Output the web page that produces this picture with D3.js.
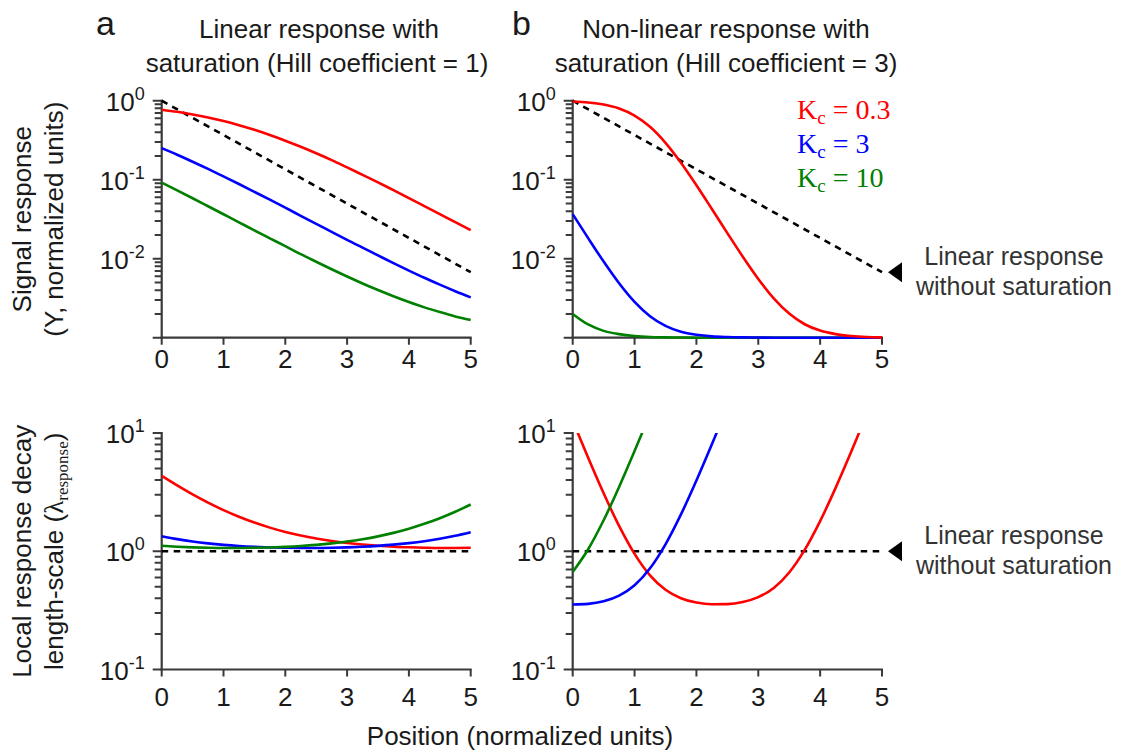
<!DOCTYPE html>
<html><head><meta charset="utf-8">
<script src="https://cdn.jsdelivr.net/npm/d3@7"></script>
<style>
body{margin:0;background:#fff}
svg{display:block}
text{font-family:"Liberation Sans",Arial,sans-serif}
</style>
</head><body>
<svg id="chart" width="1121" height="755"></svg>
<script>
// ---------- data ----------
const position = [0,0.25,0.5,0.75,1,1.25,1.5,1.75,2,2.25,2.5,2.75,3,3.25,3.5,3.75,4,4.25,4.5,4.75,5];
const xTickValues = [0,1,2,3,4,5];
const yTopLabelled = [1,0.1,0.01];
const yBotLabelled = [10,1,0.1];
const kcLabels = ["0.3","3","10"];
const seriesColors = ["#ff0000","#0000ff","#008000"];

// panel a, signal response (Hill = 1)
const respA_kc03 = [0.770,0.723,0.670,0.613,0.552,0.489,0.428,0.368,0.312,0.261,0.216,0.177,0.143,0.115,0.0925,0.0737,0.0586,0.0464,0.0367,0.0290,0.0230];
const respA_kc3  = [0.251,0.207,0.169,0.137,0.110,0.0882,0.0702,0.0558,0.0442,0.0349,0.0276,0.0219,0.0173,0.0138,0.0110,0.00878,0.00707,0.00573,0.00469,0.00388,0.00324];
const respA_kc10 = [0.0919,0.0733,0.0582,0.0461,0.0365,0.0289,0.0228,0.0181,0.0144,0.0114,0.00914,0.00735,0.00595,0.00486,0.00401,0.00335,0.00283,0.00242,0.00211,0.00186,0.00167];
// panel b, signal response (Hill = 3)
const respB_kc03 = [0.975,0.947,0.893,0.797,0.649,0.467,0.293,0.164,0.0851,0.0426,0.0211,0.0106,0.00555,0.00315,0.00202,0.00148,0.00123,0.00111,0.00105,0.00102,0.00101];
const respB_kc3  = [0.0367,0.0182,0.00920,0.00489,0.00284,0.00187,0.00141,0.00119,0.00109,0.00104,0.00102,0.00101,0.001005,0.001,0.001,0.001,0.001,0.001,0.001,0.001,0.001];
const respB_kc10 = [0.00200,0.00147,0.00122,0.00111,0.00105,0.00102,0.00101,0.001005,0.001,0.001,0.001,0.001,0.001,0.001,0.001,0.001,0.001,0.001,0.001,0.001,0.001];
// linear response without saturation
const linearPos  = [0,5];
const linearResp = [1,0.00674];
const linearLambda = [1,1];
// panel a, local decay length-scale
const lamA_kc03 = [4.339,3.601,3.026,2.579,2.230,1.959,1.748,1.584,1.456,1.357,1.280,1.220,1.174,1.139,1.113,1.093,1.080,1.071,1.066,1.066,1.069];
const lamA_kc3  = [1.339,1.266,1.209,1.166,1.133,1.108,1.090,1.077,1.069,1.066,1.066,1.070,1.079,1.092,1.111,1.137,1.172,1.217,1.276,1.352,1.449];
const lamA_kc10 = [1.112,1.093,1.079,1.070,1.066,1.066,1.069,1.077,1.089,1.107,1.132,1.165,1.208,1.264,1.336,1.430,1.550,1.705,1.903,2.159,2.487];
// panel b, local decay length-scale (null = off the chart)
const lamB_kc03 = [12.69,6.172,3.091,1.637,0.950,0.625,0.472,0.401,0.368,0.356,0.357,0.372,0.409,0.489,0.661,1.026,1.799,3.435,6.898,14.23,null];
const lamB_kc3  = [0.355,0.359,0.377,0.421,0.515,0.717,1.144,2.049,3.964,8.02,16.6,null,null,null,null,null,null,null,null,null,null];
const lamB_kc10 = [0.668,1.040,1.828,3.497,7.029,14.5,null,null,null,null,null,null,null,null,null,null,null,null,null,null,null];

// ---------- layout ----------
const svg = d3.select("#chart");
const AXIS = "#3a3a3a";
const TXT = "#1a1a1a";
const panelsX = [[161.7,470.7],[572.7,882]];
const topRange = [337.7,100.7];
const botRange = [669.5,433];

const xs = panelsX.map(r => d3.scaleLinear().domain([0,5]).range(r));
const yTop = d3.scaleLog().domain([1e-3,1]).range(topRange);
const yBot = d3.scaleLog().domain([0.1,10]).range(botRange);

const defs = svg.append("defs");
defs.append("clipPath").attr("id","clipBR").append("rect")
  .attr("x",panelsX[1][0]-5).attr("y",botRange[1]).attr("width",panelsX[1][1]-panelsX[1][0]+10).attr("height",botRange[0]-botRange[1]+5);

function superLabel(g, x, y, exp){
  const t = g.append("text").attr("x",x).attr("y",y).attr("text-anchor","end").style("font-size","26px").style("fill",TXT);
  t.append("tspan").text("10");
  t.append("tspan").attr("dy",-11).style("font-size","18px").text(exp);
}

const isMajor = d => Math.abs(Math.log10(d) - Math.round(Math.log10(d))) < 1e-9;

function drawAxes(xScale, yScale, labelled, labelTop){
  const g = svg.append("g");
  const x0 = xScale.range()[0], x1 = xScale.range()[1];
  const yb = yScale.range()[0], yt = yScale.range()[1];
  // axis lines
  g.append("path").attr("d",`M${x0},${yt - 1}V${yb + 1}`).attr("stroke",AXIS).attr("stroke-width","2.2").attr("fill","none");
  g.append("path").attr("d",`M${x0 - 1},${yb}H${x1 + 1}`).attr("stroke",AXIS).attr("stroke-width","2.2").attr("fill","none");
  // y ticks (from the log scale's own ticks)
  const tk = yScale.ticks();
  g.append("path")
    .attr("d", tk.map(d => { const yy = yScale(d); return `M${x0},${yy}L${x0 - (isMajor(d) ? 9 : 7)},${yy}`; }).join(""))
    .attr("stroke",AXIS).attr("stroke-width","2").attr("fill","none");
  // x ticks
  g.append("path")
    .attr("d", xTickValues.map(d => `M${xScale(d)},${yb}L${xScale(d)},${yb + 7}`).join(""))
    .attr("stroke",AXIS).attr("stroke-width","2").attr("fill","none");
  // labels
  labelled.forEach(d => superLabel(g, x0 - 17, yScale(d) + 10, String(Math.round(Math.log10(d)))));
  const fmt = d3.format("d");
  xTickValues.forEach(d => {
    g.append("text").attr("x",xScale(d)).attr("y",labelTop + 19).attr("text-anchor","middle")
      .style("font-size","26px").style("fill",TXT).text(fmt(d));
  });
}

drawAxes(xs[0], yTop, yTopLabelled, 349);
drawAxes(xs[1], yTop, yTopLabelled, 349);
drawAxes(xs[0], yBot, yBotLabelled, 687);
drawAxes(xs[1], yBot, yBotLabelled, 687);

function drawLine(xScale, yScale, xv, yv, color, dashed, clip){
  const pts = xv.map((x,i)=>[x,yv[i]]);
  const line = d3.line().defined(d => d[1] != null)
    .x(d => xScale(d[0])).y(d => yScale(d[1])).curve(d3.curveMonotoneX);
  const p = svg.append("path").datum(pts).attr("d",line)
    .attr("fill","none").attr("stroke",color).attr("stroke-width","2.6");
  if (dashed) p.attr("stroke-dasharray","6.5,5.5");
  if (clip) p.attr("clip-path","url(#clipBR)");
}

drawLine(xs[0], yTop, linearPos, linearResp, "#000", true);
[respA_kc03, respA_kc3, respA_kc10].forEach((s,i)=>drawLine(xs[0], yTop, position, s, seriesColors[i]));
drawLine(xs[1], yTop, linearPos, linearResp, "#000", true);
[respB_kc10, respB_kc3, respB_kc03].forEach((s,i)=>drawLine(xs[1], yTop, position, s, seriesColors[2-i]));
drawLine(xs[0], yBot, linearPos, linearLambda, "#000", true);
[lamA_kc03, lamA_kc3, lamA_kc10].forEach((s,i)=>drawLine(xs[0], yBot, position, s, seriesColors[i]));
drawLine(xs[1], yBot, linearPos, linearLambda, "#000", true);
[lamB_kc03, lamB_kc3, lamB_kc10].forEach((s,i)=>drawLine(xs[1], yBot, position, s, seriesColors[i], false, true));

function annotate(yScale, yVal){
  const tx = xs[1](5) + 6, ty = yScale(yVal);
  svg.append("path").attr("d",`M${tx},${ty} L${tx+14},${ty-10} L${tx+14},${ty+10} Z`).attr("fill","#000");
  svg.append("text").attr("x",1014).attr("y",ty-7).attr("text-anchor","middle").style("font-size","25px").style("fill","#333").text("Linear response");
  svg.append("text").attr("x",1014).attr("y",ty+23).attr("text-anchor","middle").style("font-size","25px").style("fill","#333").text("without saturation");
}
annotate(yTop, linearResp[1]);
annotate(yBot, linearLambda[1]);

kcLabels.forEach((k,i)=>{
  const t = svg.append("text").attr("x",797).attr("y",119+34*i)
    .style("font-family","'Liberation Serif','DejaVu Serif',serif").style("font-size","28px").style("fill",seriesColors[i]);
  t.append("tspan").text("K");
  t.append("tspan").attr("dy",5).style("font-size","19px").text("c");
  t.append("tspan").attr("dy",-5).text(" = " + k);
});

const titleStyle = s => s.style("font-size","26px").attr("text-anchor","middle").style("fill",TXT);
titleStyle(svg.append("text").attr("x",319).attr("y",38)).text("Linear response with");
titleStyle(svg.append("text").attr("x",317).attr("y",72)).text("saturation (Hill coefficient = 1)");
titleStyle(svg.append("text").attr("x",726).attr("y",38)).text("Non-linear response with");
titleStyle(svg.append("text").attr("x",726).attr("y",72)).text("saturation (Hill coefficient = 3)");
svg.append("text").attr("x",96).attr("y",35).style("font-size","34px").style("fill",TXT).text("a");
svg.append("text").attr("x",512).attr("y",35).style("font-size","34px").style("fill",TXT).text("b");

function yTitle(cx, cy, lines){
  lines.forEach((build,i)=>{
    const t = svg.append("text").attr("transform",`translate(${cx[i]},${cy}) rotate(-90)`)
      .attr("text-anchor","middle").style("font-size","26px").style("fill",TXT);
    build(t);
  });
}
yTitle([31,63], (topRange[0]+topRange[1])/2, [
  t => t.text("Signal response"),
  t => t.text("(Y, normalized units)")
]);
yTitle([31,63], (botRange[0]+botRange[1])/2, [
  t => t.text("Local response decay"),
  t => { t.append("tspan").text("length-scale (");
         t.append("tspan").style("font-family","'Liberation Serif','DejaVu Serif',serif").style("font-size","27px").text("λ");
         t.append("tspan").attr("dy",5).style("font-family","'Liberation Serif','DejaVu Serif',serif").style("font-size","17px").text("response");
         t.append("tspan").attr("dy",-5).text(")"); }
]);

svg.append("text").attr("x",520).attr("y",745).attr("text-anchor","middle").style("font-size","26px").style("fill",TXT).text("Position (normalized units)");
</script>
</body></html>
